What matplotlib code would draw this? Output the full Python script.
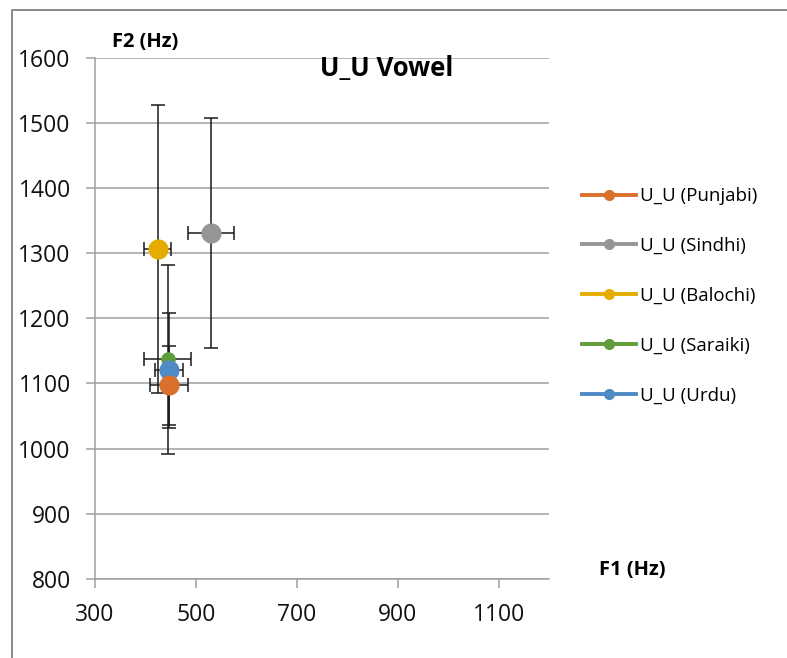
import matplotlib
matplotlib.use("Agg")
import matplotlib.pyplot as plt
from matplotlib.lines import Line2D

plt.rcParams["font.family"] = ["Open Sans", "DejaVu Sans"]

# ------------------------------------------------------------
# Formant means and standard deviations for the U_U vowel
# ------------------------------------------------------------
languages = ["Punjabi", "Sindhi", "Balochi", "Saraiki", "Urdu"]
f1_mean = [446, 530, 424, 444, 446]
f2_mean = [1097, 1331, 1307, 1137, 1120]
f1_sd = [38, 46, 26, 46, 28]
f2_sd = [61, 177, 221, 145, 88]

colors = ["#D9712C", "#969696", "#E5AC00", "#5F9C3A", "#4E8BC6"]
marker_sizes = [14.5, 14.5, 14.5, 10.5, 14.5]
# punjabi drawn on top, then urdu, then saraiki
point_z = [9, 6, 6, 7, 8]

grid_col = "#A0A0A0"

fig = plt.figure(figsize=(7.87, 6.58), dpi=100)
ax = fig.add_axes([0.1207, 0.1205, 0.5775, 0.7914])

for i, lang in enumerate(languages):
    ax.errorbar(f1_mean[i], f2_mean[i], xerr=f1_sd[i], yerr=f2_sd[i],
                fmt="none", ecolor="#1a1a1a", elinewidth=1.1,
                capsize=4.7, capthick=1.1, zorder=4)

handles = []
for i, lang in enumerate(languages):
    ax.plot(f1_mean[i], f2_mean[i], "o", color=colors[i],
            markersize=marker_sizes[i], markeredgewidth=0, zorder=point_z[i])
    handles.append(Line2D([0], [0], color=colors[i], lw=2.8, marker="o",
                          markersize=8, markeredgewidth=0,
                          label=f"U_U ({lang})"))

ax.set_xlim(300, 1200)
ax.set_ylim(800, 1600)
ax.set_xticks([300, 500, 700, 900, 1100])
ax.set_yticks(range(800, 1601, 100))
ax.yaxis.grid(True, color=grid_col, linewidth=1.1)
ax.set_axisbelow(True)

for side in ["top", "right"]:
    ax.spines[side].set_visible(False)
for side in ["left", "bottom"]:
    ax.spines[side].set_color(grid_col)
    ax.spines[side].set_linewidth(1.1)

ax.tick_params(axis="both", direction="out", length=6.5, width=1.1,
               color=grid_col, labelsize=16.5, labelcolor="#111111")
ax.tick_params(axis="x", pad=11)
ax.tick_params(axis="y", pad=11)

ax.legend(handles=handles, loc="upper left",
          bbox_to_anchor=(0.730, 0.727), bbox_transform=fig.transFigure,
          frameon=False, fontsize=13.5, handlelength=2.9, handletextpad=0.2,
          labelspacing=1.70, borderaxespad=0)

fig.text(0.184, 1 - 42 / 658, "F2 (Hz)", fontsize=14.5, fontweight="bold",
         ha="center", va="center")
fig.text(0.491, 1 - 69 / 658, "U_U Vowel", fontsize=18.5, fontweight="bold",
         ha="center", va="center")
fig.text(0.803, 1 - 570 / 658, "F1 (Hz)", fontsize=14.5, fontweight="bold",
         ha="center", va="center")

# chart frame (top and left edges)
frame_x = [12 / 787, 12 / 787, 1.0]
frame_y = [0.0, 1 - 9.5 / 658, 1 - 9.5 / 658]
fig.add_artist(Line2D(frame_x, frame_y, transform=fig.transFigure,
                      color="#8A8A8A", linewidth=1.4))

fig.savefig("out.png", dpi=100)
